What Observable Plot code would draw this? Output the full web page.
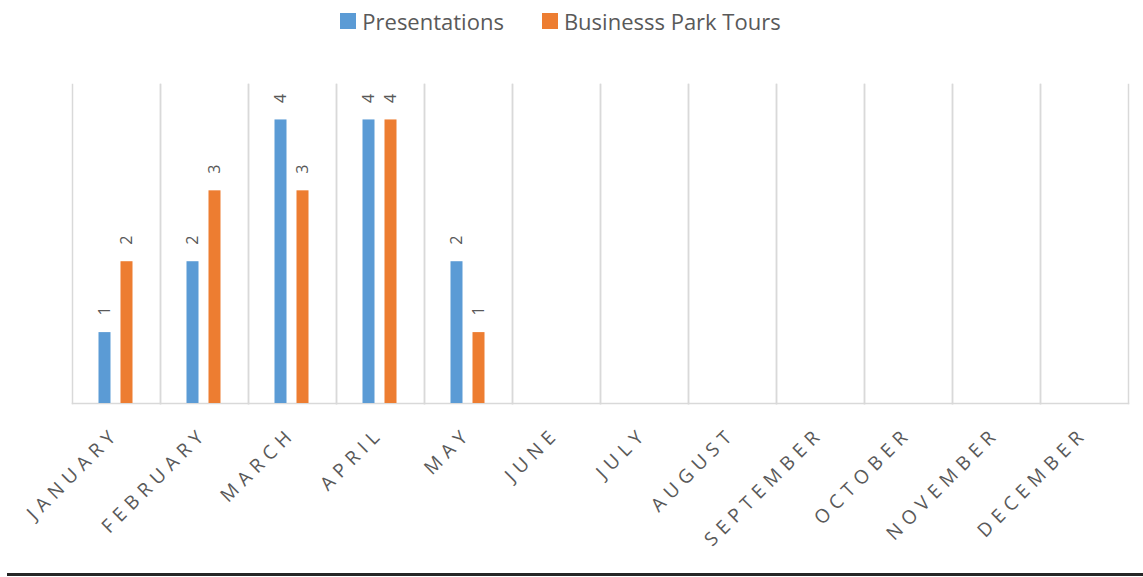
<!DOCTYPE html>
<html>
<head>
<meta charset="utf-8">
<script src="https://cdn.jsdelivr.net/npm/d3@7"></script>
<script src="https://cdn.jsdelivr.net/npm/@observablehq/plot@0.6"></script>
<style>
  html, body { margin: 0; padding: 0; background: #fff; }
  body { width: 1143px; height: 577px; overflow: hidden; font-family: "Open Sans", sans-serif; }
  #legend { height: 42px; display: flex; justify-content: center; align-items: center; gap: 38px; color: #595959; font-size: 22px; padding-right: 22px; box-sizing: border-box; }
  #legend .item { display: flex; align-items: center; gap: 6px; }
  #legend .sw { width: 16px; height: 16px; display: inline-block; }
  #chart svg { display: block; }
  #chart g[aria-label="fx-axis tick label"] text { letter-spacing: 6px; }
  #rule { margin-left: 7px; height: 3px; background: #262626; }
</style>
</head>
<body>
<div id="legend"></div>
<div id="chart"></div>
<div id="rule"></div>
<script>
const months = ["JANUARY","FEBRUARY","MARCH","APRIL","MAY","JUNE","JULY","AUGUST","SEPTEMBER","OCTOBER","NOVEMBER","DECEMBER"];
const seriesNames = ["Presentations", "Businesss Park Tours"];
const seriesColors = ["#5b9bd5", "#ed7d31"];
const presentations = [1, 2, 4, 4, 2, null, null, null, null, null, null, null];
const parkTours = [2, 3, 3, 4, 1, null, null, null, null, null, null, null];

const data = months.flatMap((m, i) => [
  {month: m, series: seriesNames[0], value: presentations[i]},
  {month: m, series: seriesNames[1], value: parkTours[i]}
]);
const labelled = data.filter(d => d.value != null);

// legend
const legend = document.getElementById("legend");
seriesNames.forEach((s, i) => {
  const it = document.createElement("span");
  it.className = "item";
  it.innerHTML = `<span class="sw" style="background:${seriesColors[i]}"></span><span>${s}</span>`;
  legend.appendChild(it);
});

const chart = Plot.plot({
  width: 1143,
  height: 531,
  marginTop: 42,
  marginBottom: 170,
  marginLeft: 71.5,
  marginRight: 15,
  style: {fontFamily: "Open Sans, sans-serif", background: "#fff"},
  facet: {data: data, x: "month"},
  fx: {domain: months, padding: 0, label: null},
  x: {domain: seriesNames, paddingInner: 0.45, paddingOuter: 1.19, axis: null},
  y: {domain: [0, 4.5], axis: null},
  color: {domain: seriesNames, range: seriesColors},
  marks: [
    Plot.frame({anchor: "left", stroke: "#d9d9d9", strokeWidth: 1.5, strokeOpacity: 1}),
    Plot.frame({anchor: "right", stroke: "#d9d9d9", strokeWidth: 1.5, strokeOpacity: 1}),
    Plot.frame({anchor: "bottom", stroke: "#d9d9d9", strokeWidth: 1.5, strokeOpacity: 1}),
    Plot.barY(data, {fx: "month", x: "series", y: "value", fill: "series"}),
    Plot.text(labelled, {fx: "month", x: "series", y: "value", text: d => String(d.value), rotate: -90, textAnchor: "start", dy: -17, fill: "#595959", fontSize: 16}),
    Plot.axisFx({anchor: "bottom", tickRotate: -45, tickSize: 0, tickPadding: 27, fontSize: 19, fill: "#595959", label: null})
  ]
});
document.getElementById("chart").appendChild(chart);
</script>
</body>
</html>
